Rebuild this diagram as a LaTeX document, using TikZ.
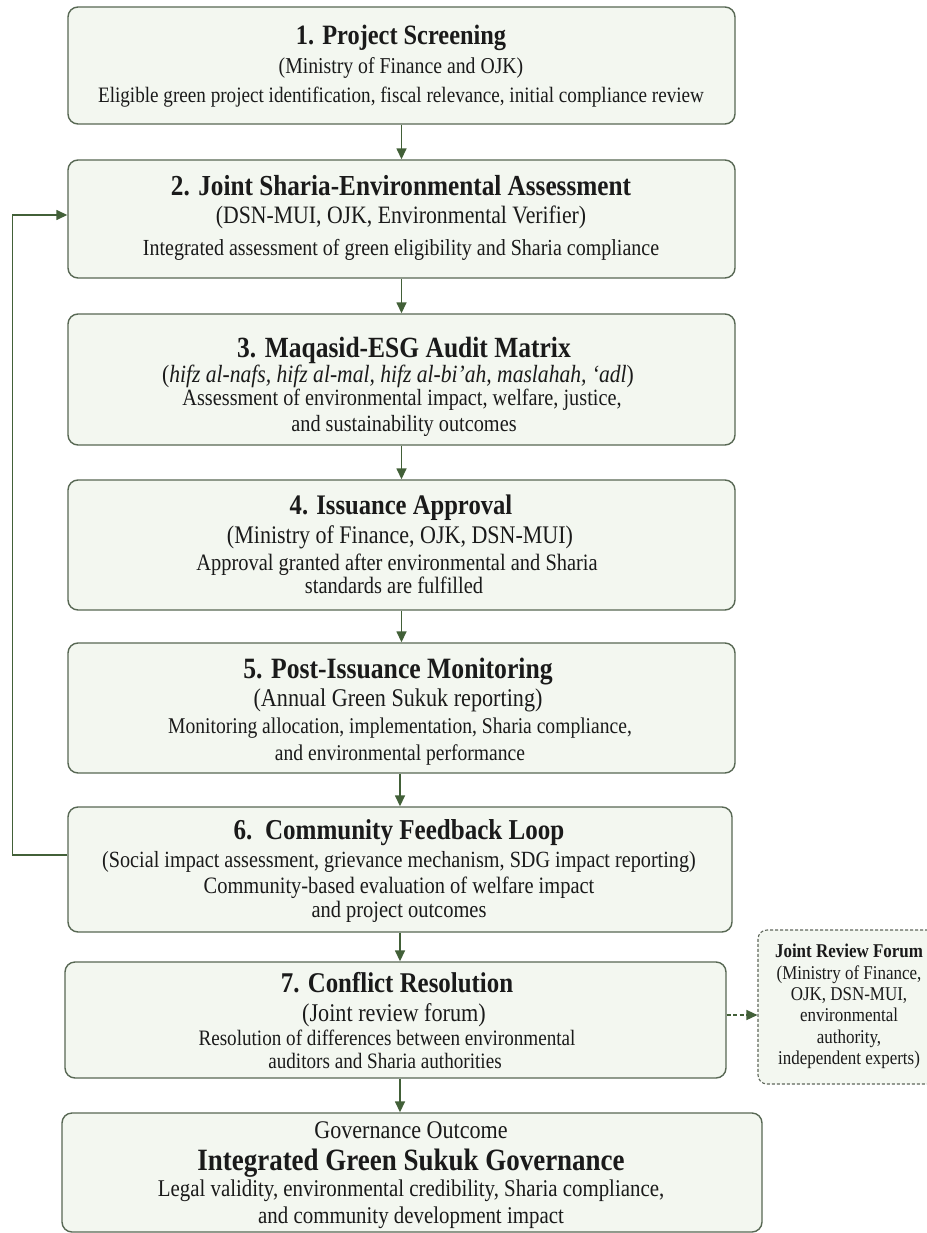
\documentclass[tikz,border=0pt]{standalone}
\usepackage{fontspec}
\setmainfont[FakeStretch=0.87]{Liberation Serif}
\usetikzlibrary{arrows.meta,calc}
\definecolor{boxc}{RGB}{88,104,84}
\definecolor{fillc}{RGB}{243,247,240}
\definecolor{arrc}{RGB}{66,96,56}
\definecolor{txtc}{RGB}{26,26,26}
\definecolor{forumc}{RGB}{96,104,92}
\begin{document}
\begin{tikzpicture}[x=1pt,y=-1pt,
  box/.style={draw=boxc, line width=1.4pt, fill=fillc, rounded corners=10pt, inner sep=0pt},
  forumbox/.style={draw=forumc, line width=1.1pt, dash pattern=on 3pt off 2pt, fill=fillc, rounded corners=9pt, inner sep=0pt},
  ttl/.style={anchor=base, inner sep=0pt, text=txtc, font=\fontsize{#1}{#1}\selectfont\bfseries},
  lin/.style={anchor=base, inner sep=0pt, text=txtc, font=\fontsize{#1}{#1}\selectfont},
  arr/.style={draw=arrc, line width=1.5pt, -{Triangle[length=11pt,width=10pt]}},
  arrd/.style={draw=arrc, line width=1.3pt, dash pattern=on 4pt off 2.5pt, -{Triangle[length=11pt,width=10pt]}}
]
\useasboundingbox[fill=white] (0,0) rectangle (926,1233);

% ---- boxes ----
\node[box, minimum width=667pt, minimum height=117pt] (b1) at (401.5,65.5) {};
\node[box, minimum width=667pt, minimum height=118pt] (b2) at (401.5,219) {};
\node[box, minimum width=667pt, minimum height=131pt] (b3) at (401.5,379.5) {};
\node[box, minimum width=667pt, minimum height=130pt] (b4) at (401.5,545) {};
\node[box, minimum width=667pt, minimum height=130pt] (b5) at (401.5,708) {};
\node[box, minimum width=664pt, minimum height=125pt] (b6) at (400,869.5) {};
\node[box, minimum width=661pt, minimum height=116pt] (b7) at (395.5,1020) {};
\node[box, minimum width=700pt, minimum height=119pt] (b8) at (412,1172.5) {};
\node[forumbox, minimum width=184pt, minimum height=154pt] (jr) at (850,1007) {};

% ---- texts ----
\node[ttl=28] (t1) at (401,44.6) {1. Project Screening};
\node[lin=22.7] (s1) at (401,73.7) {(Ministry of Finance and OJK)};
\node[lin=22] (d1) at (401,102.5) {Eligible green project identification, fiscal relevance, initial compliance review};

\node[ttl=29] (t2) at (401,195.8) {2. Joint Sharia-Environmental Assessment};
\node[lin=25] (s2) at (401,223.3) {(DSN-MUI, OJK, Environmental Verifier)};
\node[lin=23] (d2) at (401,255.8) {Integrated assessment of green eligibility and Sharia compliance};

\node[ttl=29.3] (t3) at (404,357.9) {3. Maqasid-ESG Audit Matrix};
\node[lin=24.8] (s3) at (398,382.2) {(\textit{hifz al-nafs, hifz al-mal, hifz al-bi’ah, maslahah, ‘adl})};
\node[lin=23.3] (d3a) at (402,405.8) {Assessment of environmental impact, welfare, justice,};
\node[lin=23.3] (d3b) at (404,431.8) {and sustainability outcomes};

\node[ttl=28.3] (t4) at (401,514.6) {4. Issuance Approval};
\node[lin=25.3] (s4) at (400,543.3) {(Ministry of Finance, OJK, DSN-MUI)};
\node[lin=23.5] (d4a) at (397,570.9) {Approval granted after environmental and Sharia};
\node[lin=23.5] (d4b) at (394,593.9) {standards are fulfilled};

\node[ttl=29.5] (t5) at (398,678) {5. Post-Issuance Monitoring};
\node[lin=25.5] (s5) at (398,706.4) {(Annual Green Sukuk reporting)};
\node[lin=22.5] (d5a) at (400,733.6) {Monitoring allocation, implementation, Sharia compliance,};
\node[lin=22.5] (d5b) at (400,760.6) {and environmental performance};

\node[ttl=28.8] (t6) at (399,839.8) {6.\ \ Community Feedback Loop};
\node[lin=23.2] (s6) at (399,867.8) {(Social impact assessment, grievance mechanism, SDG impact reporting)};
\node[lin=23.5] (d6a) at (399,893.9) {Community-based evaluation of welfare impact};
\node[lin=23.5] (d6b) at (399,917.9) {and project outcomes};

\node[ttl=28.6] (t7) at (397,992.7) {7. Conflict Resolution};
\node[lin=25.5] (s7) at (394,1021.4) {(Joint review forum)};
\node[lin=22] (d7a) at (387,1045.5) {Resolution of differences between environmental};
\node[lin=22] (d7b) at (385,1068.5) {auditors and Sharia authorities};

\node[lin=25.4] (g8) at (411,1138.4) {Governance Outcome};
\node[ttl=31] (t8) at (411,1170.4) {Integrated Green Sukuk Governance};
\node[lin=24] (d8a) at (411,1196) {Legal validity, environmental credibility, Sharia compliance,};
\node[lin=24] (d8b) at (411,1223) {and community development impact};

\node[font=\fontsize{19.5}{21.4}\selectfont, text=txtc, inner sep=0pt, align=center] (jt) at (849,1006.5) {\textbf{Joint Review Forum}\\(Ministry of Finance,\\OJK, DSN-MUI,\\environmental\\authority,\\independent experts)};

% ---- connectors ----
\draw[arr] (b1.south) -- (b1.south |- b2.north);
\draw[arr] (b2.south) -- (b2.south |- b3.north);
\draw[arr] (b3.south) -- (b3.south |- b4.north);
\draw[arr] (b4.south) -- (b4.south |- b5.north);
\draw[arr] (b6.north |- b5.south) -- (b6.north);
\draw[arr] (b6.south) -- (b6.south |- b7.north);
\draw[arr] (b6.south |- b7.south) -- (b6.south |- b8.north);
\draw[arr] ([yshift=14.5pt]b6.west) -- ++(-55pt,0pt) |- ([yshift=4pt]b2.west);
\draw[arrd] ([yshift=5pt]b7.east) -- ([yshift=5pt]b7.east -| jr.west);
\end{tikzpicture}
\end{document}
